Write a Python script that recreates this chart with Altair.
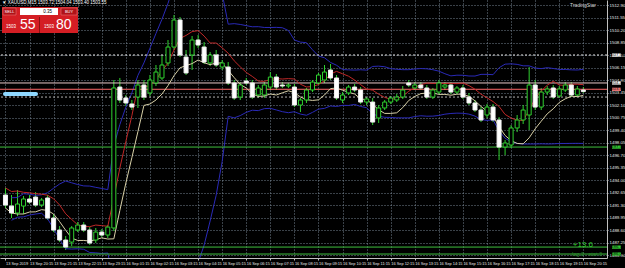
import altair as alt
import pandas as pd

# ---------------- data ----------------
symbol = "XAUUSD,M15"
opens = [1492.38,1491.19,1490.44,1491.19,1491.95,1492.16,1491.30,1492.06,1489.90,1488.60,
         1487.52,1487.30,1488.60,1489.14,1488.60,1487.52,1488.38,1488.06,1488.82,1504.04,
         1502.86,1502.21,1502.96,1504.26,1503.40,1504.48,1505.02,1506.64,1508.36,1511.28,
         1507.28,1507.50,1509.12,1508.36,1506.64,1507.50,1506.20,1506.20,1504.48,1502.96,
         1504.69,1504.48,1503.18,1503.18,1504.04,1505.12,1504.26,1504.15,1504.04,1502.10,
         1502.64,1503.72,1504.48,1504.80,1505.88,1505.02,1502.64,1503.40,1504.04,1503.72,
         1502.42,1502.42,1500.70,1501.78,1502.42,1502.64,1502.96,1504.48,1503.94,1504.26,
         1503.94,1502.96,1503.50,1504.04,1504.26,1503.50,1503.94,1502.96,1502.32,1501.56,
         1501.02,1501.88,1500.48,1497.56,1497.78,1499.62,1500.48,1501.02,1504.26,1501.88,
         1503.50,1503.94,1503.07,1503.72,1504.26,1503.18,1503.72]
highs = [1493.14,1492.38,1492.92,1492.27,1492.38,1492.70,1492.06,1492.38,1490.33,1489.03,
         1487.95,1489.03,1489.46,1489.46,1488.92,1488.82,1488.71,1489.14,1504.80,1505.02,
         1503.18,1502.64,1504.80,1504.80,1505.34,1506.42,1507.50,1509.12,1511.82,1511.60,
         1508.04,1509.55,1509.66,1508.90,1507.82,1508.04,1506.96,1506.74,1504.80,1504.58,
         1505.02,1504.80,1504.26,1504.58,1505.66,1505.45,1504.58,1504.48,1504.37,1502.86,
         1503.94,1504.80,1505.56,1506.42,1506.53,1505.34,1503.50,1504.26,1504.37,1504.04,
         1502.96,1502.86,1502.10,1502.64,1503.07,1503.29,1504.15,1504.80,1504.58,1504.58,
         1504.26,1503.94,1504.80,1504.58,1504.58,1504.15,1504.26,1503.40,1502.64,1501.88,
         1502.21,1502.21,1500.80,1498.32,1499.94,1501.02,1502.10,1506.20,1504.80,1503.94,
         1504.15,1504.26,1504.15,1504.58,1504.58,1504.15,1504.04]
lows = [1490.98,1489.90,1490.11,1490.33,1491.41,1491.08,1491.08,1489.68,1488.38,1487.30,
        1486.44,1486.87,1488.38,1488.38,1486.98,1487.20,1487.84,1487.74,1488.49,1502.32,
        1501.99,1501.56,1501.78,1502.64,1503.07,1504.15,1504.80,1506.31,1508.04,1507.28,
        1505.34,1505.88,1508.26,1506.53,1506.31,1506.20,1505.88,1504.26,1502.64,1502.64,
        1504.26,1502.75,1502.86,1502.86,1503.72,1503.72,1503.94,1503.94,1501.88,1501.34,
        1502.32,1503.50,1504.26,1504.48,1504.80,1502.64,1502.32,1503.18,1503.50,1502.21,
        1502.10,1499.94,1500.16,1501.56,1502.21,1502.42,1502.75,1504.04,1503.72,1503.72,
        1502.75,1502.75,1503.29,1503.72,1503.29,1503.29,1502.75,1502.10,1501.34,1500.26,
        1500.70,1500.26,1496.16,1496.70,1497.46,1499.18,1500.05,1499.40,1501.56,1501.56,
        1503.18,1502.75,1502.86,1503.50,1502.96,1502.96,1503.40]
closes = [1491.30,1490.44,1491.41,1491.95,1491.62,1491.30,1491.84,1489.90,1488.60,1487.52,
          1486.76,1488.82,1489.14,1488.60,1487.20,1488.38,1488.06,1488.92,1503.94,1502.64,
          1502.32,1501.88,1504.26,1502.96,1504.80,1505.66,1506.42,1508.36,1511.28,1507.50,
          1505.56,1509.12,1508.58,1506.74,1507.50,1506.42,1506.64,1504.48,1502.86,1504.26,
          1504.48,1502.96,1503.94,1504.26,1505.12,1504.04,1504.15,1504.26,1502.10,1502.64,
          1503.72,1504.58,1505.34,1505.66,1505.02,1502.86,1503.18,1504.04,1503.72,1502.42,
          1502.75,1500.26,1501.78,1502.42,1502.86,1502.96,1503.72,1504.26,1504.26,1503.94,
          1502.96,1503.72,1504.48,1504.26,1503.50,1503.94,1502.96,1502.32,1501.56,1500.48,
          1501.88,1500.48,1497.56,1498.00,1499.62,1500.48,1501.56,1504.26,1501.88,1503.50,
          1503.83,1502.96,1503.83,1504.26,1503.18,1503.83,1503.55]

time_labels = ["13 Sep 2019", "13 Sep 20:15", "13 Sep 21:15", "13 Sep 22:15", "13 Sep 23:15",
               "16 Sep 01:15", "16 Sep 02:15", "16 Sep 03:15", "16 Sep 04:15", "16 Sep 05:15",
               "16 Sep 06:15", "16 Sep 07:15", "16 Sep 08:15", "16 Sep 09:15", "16 Sep 10:15",
               "16 Sep 11:15", "16 Sep 12:15", "16 Sep 13:15", "16 Sep 14:15", "16 Sep 15:15",
               "16 Sep 16:15", "16 Sep 17:15", "16 Sep 18:15", "16 Sep 19:15", "16 Sep 20:15"]
label_bars = [4 * k for k in range(len(time_labels))]

price_ticks = [1512.90, 1511.55, 1510.20, 1508.85, 1507.50, 1506.15, 1504.80, 1503.45,
               1502.10, 1500.75, 1499.40, 1498.05, 1496.70, 1495.35, 1494.00, 1492.65,
               1491.30, 1489.95, 1488.60, 1487.25, 1485.90]

level_prices = [1507.50, 1504.48, 1503.80, 1502.96, 1497.56, 1486.76, 1486.01]
level_colors = ["#e8e8e8", "#e8c8c8", "#ff6a6a", "#b0b0b0", "#3fbf3f", "#3fbf3f", "#3fbf3f"]
level_dash = ["dot", "solid", "solid", "dot", "solid", "solid", "solid"]
box_fill = ["#ffffff", "#ffffff", "#ff8080", None, "#33cc33", "#33cc33", "#33cc33"]

bid = 1503.55
ask = 1503.80
lot = "0.35"
profit_text = "+13.6"
note_text = "lag 2 . stat 3"
brand_text = "TradingStar"

# ---------------- tables ----------------
n = len(opens)
df = pd.DataFrame({"i": list(range(n)), "open": opens, "high": highs,
                   "low": lows, "close": closes})
df["bull"] = df["close"] >= df["open"]

W, H = 607, 258
GREEN = "#2fd02f"
AX_FONT = "Liberation Sans"
xs = alt.Scale(domain=[-0.08, 99.1], nice=False, zero=False)
ys = alt.Scale(domain=[1485.58, 1513.44], nice=False, zero=False)

arr = "[" + ",".join("'" + t + "'" for t in time_labels) + "]"
xaxis = alt.Axis(values=label_bars, labelExpr=arr + "[round(datum.value/4)]",
                 orient="bottom", title=None, labelAlign="left", labelBaseline="top",
                 labelPadding=1, labelFontSize=3.9, labelColor="#e8e8e8", labelFont=AX_FONT,
                 tickSize=2, tickColor="#c0c0c0", domainColor="#c0c0c0", labelOverlap=False,
                 grid=True, gridColor="#8a9aaa", gridDash=[1, 2], gridOpacity=0.85,
                 labelFlush=False, labelBound=False)
yaxis = alt.Axis(values=price_ticks, format=".2f", orient="right", title=None,
                 labelFontSize=4.4, labelColor="#e8e8e8", labelFont=AX_FONT,
                 labelPadding=1, tickSize=1, tickColor="#c0c0c0", domainColor="#c0c0c0",
                 grid=True, gridColor="#8a9aaa", gridDash=[1, 2], gridOpacity=0.85,
                 labelOverlap=False, labelFlush=False, labelBound=False)

X = alt.X("i:Q", scale=xs, axis=xaxis)
base = alt.Chart(df)

# Bollinger-like blue bands
bb = base.transform_window(m="mean(close)", s="stdev(close)", frame=[-19, 0]).transform_calculate(
    up="datum.m + 2*datum.s", dn="datum.m - 2*datum.s")
bb_up = bb.mark_line(color="#2a2ab8", strokeWidth=1, clip=True).encode(
    x=X, y=alt.Y("up:Q", scale=ys, axis=yaxis))
bb_dn = bb.mark_line(color="#2a2ab8", strokeWidth=1, clip=True).encode(
    x=X, y=alt.Y("dn:Q", scale=ys, axis=yaxis))

# level lines
lv = pd.DataFrame({"price": level_prices, "color": level_colors, "dash": level_dash,
                   "fill": box_fill})
lv_solid = alt.Chart(lv[lv.dash == "solid"]).mark_rule(strokeWidth=1).encode(
    y=alt.Y("price:Q", scale=ys, axis=yaxis), color=alt.Color("color:N", scale=None))
lv_dot = alt.Chart(lv[lv.dash == "dot"]).mark_rule(strokeWidth=1, strokeDash=[2, 2]).encode(
    y=alt.Y("price:Q", scale=ys, axis=yaxis), color=alt.Color("color:N", scale=None))

# moving lines of highs / lows
red_line = base.transform_window(hm="mean(high)", frame=[-4, 0]).mark_line(
    color="#c02828", strokeWidth=1, clip=True).encode(x=X, y=alt.Y("hm:Q", scale=ys, axis=yaxis))
wht_line = base.transform_window(lm="mean(low)", frame=[-4, 0]).mark_line(
    color="#d8d0a8", strokeWidth=1, clip=True).encode(x=X, y=alt.Y("lm:Q", scale=ys, axis=yaxis))

# candles
wicks = base.mark_rule(color=GREEN, strokeWidth=1).encode(
    x=X, y=alt.Y("low:Q", scale=ys, axis=yaxis), y2="high:Q")
bodies = base.mark_bar(size=4, strokeWidth=1).encode(
    x=X, y=alt.Y("open:Q", scale=ys, axis=yaxis), y2="close:Q",
    fill=alt.condition("datum.bull", alt.value("#000000"), alt.value("#ffffff")),
    stroke=alt.condition("datum.bull", alt.value(GREEN), alt.value("#f0f0f0")))

# axis price boxes
bx = lv[lv.fill.notna()]
boxes = alt.Chart(bx).mark_point(shape="M-1,-0.36H1V0.36H-1Z", filled=True, size=81,
                                 opacity=1).encode(
    x=alt.value(616.5), y=alt.Y("price:Q", scale=ys, axis=yaxis),
    color=alt.Color("fill:N", scale=None))
box_txt = alt.Chart(bx).mark_text(fontSize=4.4, font=AX_FONT, color="#000000",
                                  align="center", baseline="middle").encode(
    x=alt.value(616.5), y=alt.Y("price:Q", scale=ys, axis=yaxis),
    text=alt.Text("price:Q", format=".2f"))

# title & one-click panel
last = n - 1
title_str = "\u25bc %s  %.2f %.2f %.2f %.2f" % (symbol, opens[last], highs[last], lows[last], closes[last])
one = pd.DataFrame({"k": [0]})
oc = alt.Chart(one)
title_t = oc.mark_text(fontSize=4.5, font=AX_FONT, color="#ffffff", align="left",
                       baseline="middle", text=title_str).encode(x=alt.value(2), y=alt.value(3))
panel = oc.mark_rect(color="#d41e24").encode(x=alt.value(2), x2=alt.value(78),
                                              y=alt.value(7), y2=alt.value(33))
divider = oc.mark_rule(color="#8a1010").encode(x=alt.value(39.5), y=alt.value(17), y2=alt.value(33))
sell_btn = oc.mark_rect(color="#b01218", stroke="#f08080", strokeWidth=0.5).encode(
    x=alt.value(3), x2=alt.value(16), y=alt.value(8), y2=alt.value(15))
buy_btn = oc.mark_rect(color="#b01218", stroke="#f08080", strokeWidth=0.5).encode(
    x=alt.value(61), x2=alt.value(77), y=alt.value(8), y2=alt.value(15))
lot_box = oc.mark_rect(color="#ffffff").encode(x=alt.value(20), x2=alt.value(58),
                                               y=alt.value(8), y2=alt.value(15))
sell_t = oc.mark_text(fontSize=4, color="#ffffff", text="SELL", font=AX_FONT).encode(
    x=alt.value(9.5), y=alt.value(11.5))
buy_t = oc.mark_text(fontSize=4, color="#ffffff", text="BUY", font=AX_FONT).encode(
    x=alt.value(69), y=alt.value(11.5))
lot_t = oc.mark_text(fontSize=4.5, color="#000000", text=lot, font=AX_FONT,
                     align="right").encode(x=alt.value(52), y=alt.value(11.5))
bid_s = "%.2f" % bid
ask_s = "%.2f" % ask
bid_small = oc.mark_text(fontSize=4.5, color="#ffffff", text=bid_s[:4], font=AX_FONT,
                         align="left").encode(x=alt.value(6), y=alt.value(27))
bid_big = oc.mark_text(fontSize=14, color="#ffffff", text=bid_s[5:], font="Liberation Sans",
                       align="left").encode(x=alt.value(20), y=alt.value(25))
ask_small = oc.mark_text(fontSize=4.5, color="#ffffff", text=ask_s[:4], font=AX_FONT,
                         align="left").encode(x=alt.value(44), y=alt.value(27))
ask_big = oc.mark_text(fontSize=14, color="#ffffff", text=ask_s[5:], font="Liberation Sans",
                       align="left").encode(x=alt.value(56), y=alt.value(25))

brand = oc.mark_text(fontSize=5, color="#d0d0d0", text=brand_text, font=AX_FONT,
                     align="right").encode(x=alt.value(596), y=alt.value(5))
profit = oc.mark_text(fontSize=8, color="#2fd02f", text=profit_text, font=AX_FONT,
                      align="right").encode(x=alt.value(593), y=alt.value(245))
note = oc.mark_text(fontSize=5.5, color="#2a8a2a", text=note_text, font=AX_FONT,
                    align="right").encode(x=alt.value(602), y=alt.value(254))
cyan = oc.mark_rule(color="#8fd8ff", strokeWidth=4, strokeCap="round").encode(
    x=alt.value(5), x2=alt.value(36), y=alt.value(94))

chart = alt.layer(
    wicks, bb_up, bb_dn, lv_dot, lv_solid, red_line, wht_line, bodies,
    boxes, box_txt, cyan, panel, divider, sell_btn, buy_btn, lot_box, sell_t, buy_t, lot_t,
    bid_small, bid_big, ask_small, ask_big, title_t, brand, profit, note
).properties(
    width=W, height=H, background="#000000",
    padding={"left": 0, "top": 0, "right": 18, "bottom": 10},
    autosize=alt.AutoSizeParams(type="none")
).configure_view(stroke=None, fill="#000000")

chart.save("out.html", embed_options={"renderer": "svg", "actions": False})
